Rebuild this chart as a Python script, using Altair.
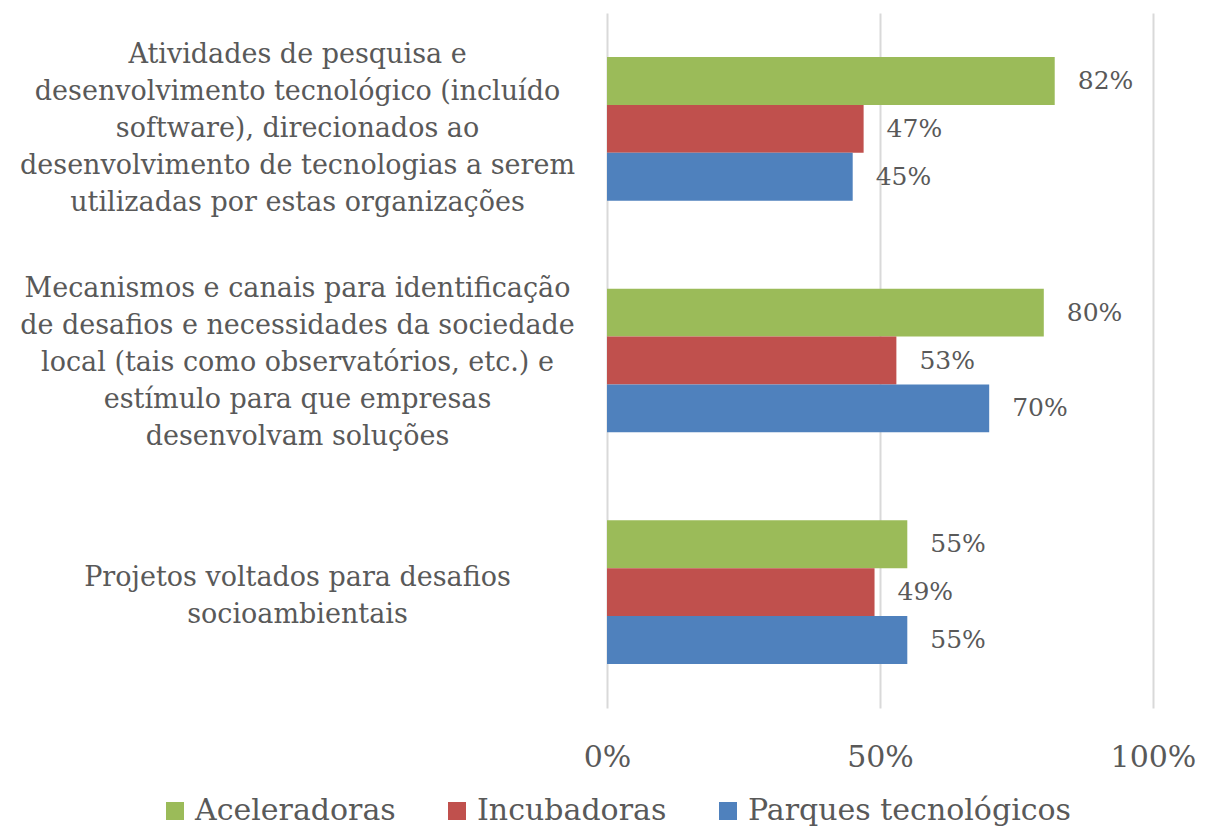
import altair as alt
import pandas as pd

categories = [
    "Atividades de pesquisa e|desenvolvimento tecnológico (incluído|software), direcionados ao|desenvolvimento de tecnologias a serem|utilizadas por estas organizações",
    "Mecanismos e canais para identificação|de desafios e necessidades da sociedade|local (tais como observatórios, etc.) e|estímulo para que empresas|desenvolvam soluções",
    "Projetos voltados para desafios|socioambientais",
]
series = ["Aceleradoras", "Incubadoras", "Parques tecnológicos"]
colors = ["#9BBB59", "#C0504D", "#4F81BD"]
aceleradoras = [82, 80, 55]
incubadoras = [47, 53, 49]
parques = [45, 70, 55]

rows = []
for i, c in enumerate(categories):
    for s, vals in zip(series, [aceleradoras, incubadoras, parques]):
        rows.append({"cat": c, "series": s, "value": vals[i] / 100.0,
                     "label": f"{vals[i]}%"})
df = pd.DataFrame(rows)

FONT = "DejaVu Serif"
TXT = "#595959"
LH = 37

y_enc = alt.Y("cat:N", sort=categories,
              scale=alt.Scale(paddingInner=0.38, paddingOuter=0.19),
              axis=alt.Axis(title=None, domain=False, ticks=False,
                            labelExpr="split(datum.label, '|')",
                            labelAlign="center", labelBaseline="middle",
                            labelOffset={"condition": [
                                {"test": "indexof(datum.value, 'Projetos') == 0", "value": -LH / 2 + 4},
                                {"test": "indexof(datum.value, 'Mecanismos') == 0", "value": -2 * LH + 2},
                            ], "value": -2 * LH},
                            labelPadding=310, labelFontSize=27,
                            labelLineHeight=LH, labelFont=FONT,
                            labelColor=TXT, labelLimit=0))
yoff = alt.YOffset("series:N", sort=series, scale=alt.Scale(paddingInner=0, paddingOuter=0))

base = alt.Chart(df)

bars = base.mark_bar(cornerRadius=0).encode(
    x=alt.X("value:Q", scale=alt.Scale(domain=[0, 1], nice=False),
            axis=alt.Axis(title=None, values=[0, 0.5, 1], format=".0%",
                          domain=False, ticks=False, grid=True,
                          gridColor="#D9D9D9", gridWidth=2,
                          labelFontSize=30, labelFont=FONT, labelColor=TXT,
                          labelFlush=False, labelPadding=34)),
    y=y_enc,
    yOffset=yoff,
    color=alt.Color("series:N", sort=series,
                    scale=alt.Scale(domain=series, range=colors),
                    legend=alt.Legend(title=None, orient="none",
                                      direction="horizontal",
                                      legendX=-447, legendY=783,
                                      symbolType="square", symbolSize=324,
                                      symbolStrokeWidth=0,
                                      labelFontSize=30, labelFont=FONT,
                                      labelColor=TXT, labelOffset=5,
                                      columnPadding=46, labelLimit=0)),
)

texts = base.mark_text(align="left", baseline="middle", dx=23,
                       font=FONT, fontSize=25, color=TXT).encode(
    x="value:Q",
    y=alt.Y("cat:N", sort=categories),
    yOffset=yoff,
    text="label:N",
)

chart = alt.layer(bars, texts).properties(
    width=546, height=695,
    background="white",
    autosize=alt.AutoSizeParams(type="none"),
    padding={"left": 599, "top": 5, "right": 45, "bottom": 118},
).configure_view(stroke=None)

chart.save("out.html", embed_options={"renderer": "svg", "actions": False})
